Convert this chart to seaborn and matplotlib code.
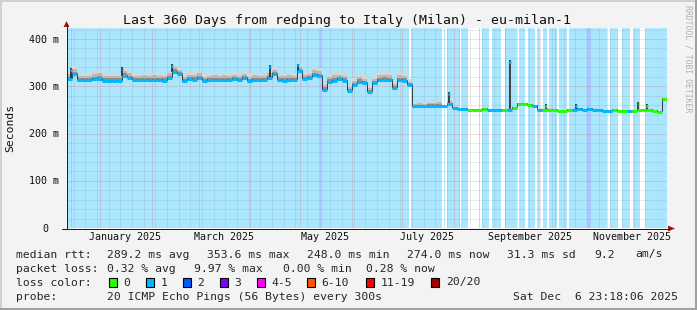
import numpy as np
import pandas as pd
import matplotlib
matplotlib.use("Agg")
import matplotlib.pyplot as plt
import matplotlib.transforms as mtransforms
import matplotlib.colors as mcolors
from matplotlib.patches import Rectangle, Polygon
from matplotlib.lines import Line2D
import seaborn as sns

# ---------------- data ----------------
TITLE = "Last 360 Days from redping to Italy (Milan) - eu-milan-1"
START = pd.Timestamp("2024-12-11 23:18:06")
SPAN_DAYS = 360
SAMPLE_DAYS = 3

# median rtt (ms) per 3-day sample
median_ms = [
    316, 326, 313, 313, 313, 315, 316, 312, 312, 312,
    312, 322, 318, 313, 313, 314, 313, 314, 313, 312,
    318, 331, 326, 311, 315, 314, 318, 311, 313, 314,
    313, 314, 313, 315, 313, 317, 311, 314, 313, 313,
    318, 326, 313, 312, 314, 313, 332, 315, 317, 324,
    322, 293, 310, 312, 315, 312, 291, 303, 310, 306,
    288, 306, 313, 314, 313, 296, 313, 312, 302,
    258, 258, 259, 258, 259, 258, 258, 262, 255, 251,
    251, 250, 250, 250, 251, 250, 250, 250, 250, 250,
    255, 262, 262, 261, 258, 250, 249, 250, 250, 248,
    248, 249, 250, 251, 250, 251, 250, 250, 248, 248,
    249, 248, 248, 247, 247, 249, 250, 249, 248, 246,
    273,
]
# loss class of the median line (0 = no loss, 1 = one ping lost)
loss_level = [1] * 69 + [
    1, 1, 1, 1, 1, 1, 1, 1, 1, 1,
    1, 0, 0, 0, 0, 1, 1, 1, 0, 1,
    0, 0, 0, 0, 1, 1, 0, 0, 0, 0,
    0, 0, 1, 1, 1, 1, 1, 1, 1, 1,
    0, 0, 0, 1, 0, 0, 0, 0, 0, 0,
    0,
]
# smoke spread above the median (ms)
smoke_up_ms = [
    15, 17, 16, 16, 16, 17, 19, 16, 16, 16,
    16, 17, 15, 16, 16, 15, 16, 15, 16, 16,
    15, 15, 13, 16, 15, 17, 15, 16, 16, 15,
    16, 15, 16, 15, 16, 15, 16, 15, 16, 16,
    15, 15, 16, 16, 15, 16, 13, 15, 15, 17,
    16, 15, 16, 19, 15, 16, 13, 15, 17, 15,
    13, 15, 18, 17, 18, 13, 17, 15, 13,
    6, 10, 6, 12, 8, 14, 3, 12, 3, 2,
    2, 1, 1, 1, 3, 1, 1, 1, 1, 3,
    2, 2, 2, 2, 2, 3, 2, 3, 1, 1,
    1, 1, 1, 3, 2, 3, 2, 1, 1, 2,
    1, 1, 2, 1, 1, 3, 2, 3, 1, 1,
    2,
]
# short spikes (day from start, peak in ms)
spike_day = [2.4, 33.2, 63.0, 121.8, 138.4, 229.2, 265.8, 287.4, 305.2, 342.8, 347.8]
spike_top_ms = [338, 341, 347, 345, 348, 288, 355, 262, 262, 267, 262]

# packet-loss background bands (day from start)
band_start = [0.0, 206.2, 226.3, 228.0, 236.6, 247.4, 249.2, 254.8, 263.0, 271.2,
              276.8, 282.2, 285.4, 289.2, 295.4, 301.2, 314.2, 325.8, 332.8, 339.8,
              346.8, 354.8, 2.4, 152.0, 311.8]
band_end = [205.4, 225.2, 226.8, 235.6, 240.8, 247.8, 253.4, 260.2, 269.8, 274.8,
            280.8, 283.8, 287.8, 293.8, 299.8, 311.8, 323.8, 330.8, 337.8, 343.8,
            353.8, 359.8, 3.0, 152.7, 314.2]
band_level = [1] * 22 + [2, 2, 2]

y_ticks = [0, 100, 200, 300, 400]
y_tick_labels = ["0", "100 m", "200 m", "300 m", "400 m"]
month_label_dates = ["2025-01-01", "2025-03-01", "2025-05-01",
                     "2025-07-01", "2025-09-01", "2025-11-01"]
month_labels = ["January 2025", "March 2025", "May 2025",
                "July 2025", "September 2025", "November 2025"]

rtt_stats = ["289.2 ms avg", "353.6 ms max", "248.0 ms min",
             "274.0 ms now", "31.3 ms sd", "9.2", "am/s"]
loss_stats = ["0.32 % avg", "9.97 % max", "0.00 % min", "0.28 % now"]
loss_names = ["0", "1", "2", "3", "4-5", "6-10", "11-19", "20/20"]
loss_colors = ["#26ff00", "#00b8ff", "#0059ff", "#7e00ff",
               "#ff00ff", "#ff5500", "#ff0000", "#a10000"]
probe_text = "20 ICMP Echo Pings (56 Bytes) every 300s"
stamp_text = "Sat Dec  6 23:18:06 2025"

# ---------------- layout ----------------
W, H = 697, 310
L, T, PW, PH = 67, 28, 600, 200
YMAX = 423.3
rtt_x = [107.3, 207.3, 306.7, 407.3, 507.3, 594, 635]
loss_x = [107.3, 194, 283, 365.5]
swatch_x = [108.7, 145.7, 182.7, 219.7, 256.7, 307, 365.7, 431]
ytick_right_px = [48.3, 59.3, 59.3, 59.3, 59.3]
MONO = "DejaVu Sans Mono"
BAND_ALPHA = 0.333

sns.set_style("white")
plt.rcParams["font.family"] = [MONO]

fig = plt.figure(figsize=(W / 100, H / 100), dpi=100)
fig.patch.set_facecolor("#f3f3f3")
ax = fig.add_axes([L / W, (H - T - PH) / H, PW / W, PH / H])
ax.set_facecolor("white")


def fx(x):
    return x / W


def fy(y):
    return 1 - y / H


def tint(c):
    rgb = np.array(mcolors.to_rgb(c))
    return tuple(rgb * BAND_ALPHA + (1 - BAND_ALPHA))


days = np.arange(len(median_ms)) * SAMPLE_DAYS
med = np.array(median_ms, float)
up = np.array(smoke_up_ms, float)
step_x = np.append(days, SPAN_DAYS)


def stepv(a):
    return np.append(a, a[-1])


# loss background (opaque tints, higher class drawn last)
for s, e, lv in sorted(zip(band_start, band_end, band_level), key=lambda r: r[2]):
    ax.axvspan(s, e, color=tint(loss_colors[lv]), lw=0, zorder=0.5 + 0.01 * lv)

# grid
month_starts = pd.date_range("2025-01-01", "2025-12-01", freq="MS")
month_days = (month_starts - START) / pd.Timedelta(days=1)
weeks = pd.date_range("2024-12-16", "2025-12-06", freq="7D")
week_days = (weeks - START) / pd.Timedelta(days=1)
minor_c, major_c = (0.5, 0.5, 0.55, 0.32), (0.95, 0.25, 0.25, 0.38)
dot = (0, (1, 1))
for d in week_days:
    ax.axvline(d, color=minor_c, lw=0.72, ls=dot, zorder=1)
for v in range(20, 424, 20):
    if v % 100:
        ax.axhline(v, color=minor_c, lw=0.72, ls=dot, zorder=1)
for d in month_days:
    ax.axvline(d, color=major_c, lw=0.72, ls=dot, zorder=1.1)
for v in y_ticks[1:]:
    ax.axhline(v, color=major_c, lw=0.72, ls=dot, zorder=1.1)

# smoke
ax.fill_between(step_x, stepv(med - 3), stepv(med + up), step="post",
                color="#d6d6d6", lw=0, zorder=2)
ax.fill_between(step_x, stepv(med - 2), stepv(med + 0.6 * up), step="post",
                color="#b8b8b8", lw=0, zorder=2.1)
ax.fill_between(step_x, stepv(med - 1), stepv(med + 0.3 * up), step="post",
                color="#8e8e8e", lw=0, zorder=2.2)

# dark trace
df = pd.DataFrame({"day": step_x, "median": stepv(med) + 2.0})
sns.lineplot(data=df, x="day", y="median", drawstyle="steps-post",
             color="#202020", lw=0.6, estimator=None, ax=ax, zorder=3)

# spikes
sidx = (np.array(spike_day) // SAMPLE_DAYS).astype(int)
ax.vlines(spike_day, med[sidx], spike_top_ms, colors="#151515", lw=1.1, zorder=3.5)
ax.hlines(np.array(spike_top_ms) - 4, np.array(spike_day) - 0.4, np.array(spike_day) + 0.6,
          colors=[loss_colors[loss_level[i]] for i in sidx], lw=2.0, zorder=3.6,
          capstyle="butt")

# loss-coloured median
ax.hlines(med, days, days + SAMPLE_DAYS,
          colors=[loss_colors[l] for l in loss_level], lw=2.2,
          zorder=4, capstyle="butt")

ax.set_xlim(0, SPAN_DAYS)
ax.set_ylim(0, YMAX)
ax.set_xlabel("")
ax.set_ylabel("")
for s in ax.spines.values():
    s.set_visible(False)

ax.set_yticks(y_ticks)
ax.set_yticks([v for v in range(20, 424, 20) if v % 100], minor=True)
ax.set_xticks(month_days)
ax.set_xticks(week_days, minor=True)
ax.tick_params(which="major", length=3.6, width=0.72, color="black",
               direction="out", labelleft=False, labelbottom=False)
ax.tick_params(which="minor", length=1.5, width=0.72, color="black",
               direction="out", labelleft=False, labelbottom=False)

# axis lines and arrows
fig.add_artist(Line2D([fx(66.5), fx(66.5)], [fy(228.5), fy(24)], color="#202020", lw=0.72))
fig.add_artist(Line2D([fx(62), fx(670)], [fy(228.5), fy(228.5)], color="#202020", lw=0.72))
fig.add_artist(Polygon([(fx(63.5), fy(27)), (fx(69.5), fy(27)), (fx(66.5), fy(21))],
                       closed=True, transform=fig.transFigure, color="#9c1c1c", lw=0))
fig.add_artist(Polygon([(fx(668), fy(225.5)), (fx(668), fy(231.5)), (fx(675), fy(228.5))],
                       closed=True, transform=fig.transFigure, color="#9c1c1c", lw=0))

# tick labels
ytrans = mtransforms.blended_transform_factory(ax.transAxes, ax.transData)
for v, lab, rx in zip(y_ticks, y_tick_labels, ytick_right_px):
    t = mtransforms.offset_copy(ytrans, fig=fig, x=rx - L, y=-3.5, units="dots")
    ax.text(0, v, lab, transform=t, ha="right", va="baseline", fontsize=7.2,
            color="#101010")
xtrans = mtransforms.blended_transform_factory(ax.transData, ax.transAxes)
label_days = (pd.to_datetime(month_label_dates) + pd.Timedelta(days=15) - START) / pd.Timedelta(days=1)
for d, lab in zip(label_days, month_labels):
    t = mtransforms.offset_copy(xtrans, fig=fig, x=0, y=-12.5, units="dots")
    ax.text(d, 0, lab, transform=t, ha="center", va="baseline", fontsize=7.2,
            color="#101010")

# titles
fig.text(fx(347), fy(24), TITLE, ha="center", va="baseline", fontsize=9.5, color="#101010")
fig.text(fx(10.5), fy(128), "Seconds", rotation=90, ha="center", va="center",
         fontsize=8.2, color="#101010")
fig.text(fx(688), fy(5), "RRDTOOL / TOBI OETIKER", rotation=270, ha="center",
         va="top", fontsize=5.9, color="#b0b0b0")

# legend
LF = 8.2
fig.text(fx(16), fy(257.5), "median rtt:", fontsize=LF, va="baseline")
for s, x in zip(rtt_stats, rtt_x):
    fig.text(fx(x), fy(257.5), s, fontsize=LF, va="baseline")
fig.text(fx(16), fy(271.5), "packet loss:", fontsize=LF, va="baseline")
for s, x in zip(loss_stats, loss_x):
    fig.text(fx(x), fy(271.5), s, fontsize=LF, va="baseline")
fig.text(fx(16), fy(285.5), "loss color:", fontsize=LF, va="baseline")
for name, col, x in zip(loss_names, loss_colors, swatch_x):
    fig.add_artist(Rectangle((fx(x), fy(287)), 8 / W, 9.5 / H, transform=fig.transFigure,
                             facecolor=col, edgecolor="black", lw=0.8))
    fig.text(fx(x + 14.7), fy(285.5), name, fontsize=LF, va="baseline")
fig.text(fx(16), fy(299.5), "probe:", fontsize=LF, va="baseline")
fig.text(fx(107.3), fy(299.5), probe_text, fontsize=LF, va="baseline")
fig.text(fx(513.3), fy(299.5), stamp_text, fontsize=LF, va="baseline")

# 3d frame
fig.add_artist(Line2D([0, 1], [fy(0.5), fy(0.5)], color="#d0d0d0", lw=1.4))
fig.add_artist(Line2D([fx(0.5), fx(0.5)], [0, 1], color="#d0d0d0", lw=1.4))
fig.add_artist(Line2D([0, 1], [fy(308.5), fy(308.5)], color="#a0a0a0", lw=2.2))
fig.add_artist(Line2D([fx(695.5), fx(695.5)], [0, 1], color="#a0a0a0", lw=2.2))

fig.savefig("out.png", dpi=100, facecolor=fig.get_facecolor())
